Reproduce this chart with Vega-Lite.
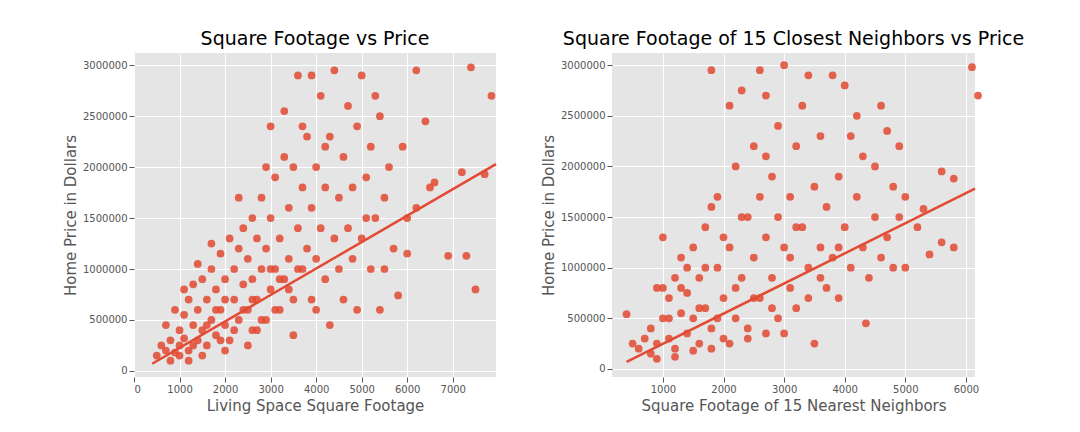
{
  "$schema": "https://vega.github.io/schema/vega-lite/v6.json",
  "padding": {"left": 63, "top": 30, "right": 10, "bottom": 5},
  "background": "white",
  "spacing": 40,
  "config": {
    "font": "DejaVu Sans",
    "view": {"fill": "#E5E5E5", "stroke": null},
    "axis": {"domain": false, "grid": true, "gridColor": "white", "gridWidth": 1, "tickColor": "#555555", "labelColor": "#555555", "labelFontSize": 10, "titleColor": "#555555", "titleFontSize": 15, "titleFontWeight": "normal"},
    "title": {"fontSize": 19, "fontWeight": "normal", "color": "black"}
  },
  "datasets": {
    "living": [
      {"x":500,"y":150000},{"x":600,"y":250000},{"x":700,"y":200000},{"x":800,"y":300000},{"x":900,"y":180000},{"x":1000,"y":400000},{"x":1000,"y":250000},{"x":1100,"y":550000},{"x":1100,"y":320000},{"x":1200,"y":700000},{"x":1200,"y":200000},{"x":1300,"y":450000},{"x":1300,"y":850000},{"x":1400,"y":300000},{"x":1400,"y":600000},{"x":1500,"y":900000},{"x":1500,"y":400000},{"x":1600,"y":250000},{"x":1600,"y":700000},{"x":1700,"y":1000000},{"x":1700,"y":500000},{"x":1800,"y":350000},{"x":1800,"y":800000},{"x":1900,"y":1150000},{"x":1900,"y":600000},{"x":2000,"y":450000},{"x":2000,"y":900000},{"x":2100,"y":300000},{"x":2100,"y":1300000},{"x":2200,"y":700000},{"x":2200,"y":1000000},{"x":2300,"y":500000},{"x":2300,"y":1200000},{"x":2400,"y":850000},{"x":2400,"y":1400000},{"x":2500,"y":600000},{"x":2500,"y":1100000},{"x":2600,"y":400000},{"x":2600,"y":900000},{"x":2700,"y":1300000},{"x":2700,"y":700000},{"x":2800,"y":1700000},{"x":2800,"y":1000000},{"x":2900,"y":500000},{"x":2900,"y":1200000},{"x":3000,"y":800000},{"x":3000,"y":1500000},{"x":3000,"y":2400000},{"x":3100,"y":1900000},{"x":3100,"y":1000000},{"x":3200,"y":600000},{"x":3200,"y":1300000},{"x":3300,"y":2100000},{"x":3300,"y":900000},{"x":3400,"y":1600000},{"x":3400,"y":1100000},{"x":3500,"y":2000000},{"x":3500,"y":700000},{"x":3600,"y":1400000},{"x":3600,"y":2900000},{"x":3700,"y":1000000},{"x":3700,"y":1800000},{"x":3800,"y":2300000},{"x":3800,"y":1200000},{"x":3900,"y":1600000},{"x":3900,"y":700000},{"x":4000,"y":2000000},{"x":4000,"y":1100000},{"x":4100,"y":2700000},{"x":4100,"y":1400000},{"x":4200,"y":900000},{"x":4200,"y":1800000},{"x":4300,"y":2300000},{"x":4300,"y":450000},{"x":4400,"y":1300000},{"x":4400,"y":2950000},{"x":4500,"y":1700000},{"x":4500,"y":1000000},{"x":4600,"y":2100000},{"x":4700,"y":1400000},{"x":4700,"y":2600000},{"x":4800,"y":1800000},{"x":4800,"y":1100000},{"x":4900,"y":2400000},{"x":5000,"y":1300000},{"x":5000,"y":2900000},{"x":5100,"y":1900000},{"x":5200,"y":1000000},{"x":5200,"y":2200000},{"x":5300,"y":1500000},{"x":5400,"y":600000},{"x":5400,"y":2500000},{"x":5500,"y":1700000},{"x":5600,"y":2000000},{"x":5700,"y":1200000},{"x":5800,"y":740000},{"x":5900,"y":2200000},{"x":6000,"y":1500000},{"x":6000,"y":1150000},{"x":6200,"y":2950000},{"x":6200,"y":1600000},{"x":6400,"y":2450000},{"x":6500,"y":1800000},{"x":6600,"y":1850000},{"x":6900,"y":1130000},{"x":7200,"y":1950000},{"x":7300,"y":1130000},{"x":7400,"y":2980000},{"x":7500,"y":800000},{"x":7700,"y":1930000},{"x":7850,"y":2700000},
      {"x":1500,"y":150000},{"x":2500,"y":250000},{"x":3500,"y":350000},{"x":800,"y":100000},{"x":1200,"y":100000},{"x":2000,"y":200000},{"x":900,"y":600000},{"x":1100,"y":800000},{"x":1300,"y":250000},{"x":1600,"y":450000},{"x":1800,"y":600000},{"x":2000,"y":700000},{"x":2200,"y":400000},{"x":2400,"y":600000},{"x":2600,"y":700000},{"x":2800,"y":500000},{"x":3000,"y":1000000},{"x":3200,"y":900000},{"x":3400,"y":800000},{"x":3600,"y":1000000},{"x":1400,"y":1050000},{"x":1700,"y":1250000},{"x":2300,"y":1700000},{"x":2600,"y":1500000},{"x":2900,"y":2000000},{"x":3300,"y":2550000},{"x":3900,"y":2900000},{"x":3700,"y":2400000},{"x":4200,"y":2200000},{"x":700,"y":450000},{"x":1000,"y":150000},{"x":1900,"y":300000},{"x":2700,"y":400000},{"x":3100,"y":600000},{"x":4000,"y":600000},{"x":4600,"y":700000},{"x":4900,"y":600000},{"x":5500,"y":1000000},{"x":5100,"y":1500000},{"x":5300,"y":2700000}
    ],
    "livingLine": [{"x":400,"y":70000},{"x":7950,"y":2030000}],
    "neigh": [
      {"x":400,"y":540000},{"x":500,"y":250000},{"x":600,"y":200000},{"x":800,"y":150000},{"x":800,"y":400000},{"x":900,"y":800000},{"x":900,"y":250000},{"x":1000,"y":500000},{"x":1000,"y":1300000},{"x":1100,"y":300000},{"x":1100,"y":700000},{"x":1200,"y":900000},{"x":1200,"y":200000},{"x":1300,"y":550000},{"x":1300,"y":1100000},{"x":1400,"y":350000},{"x":1400,"y":750000},{"x":1500,"y":1200000},{"x":1500,"y":500000},{"x":1600,"y":250000},{"x":1600,"y":900000},{"x":1700,"y":1400000},{"x":1700,"y":600000},{"x":1800,"y":2950000},{"x":1800,"y":400000},{"x":1900,"y":1000000},{"x":1900,"y":1700000},{"x":2000,"y":700000},{"x":2000,"y":300000},{"x":2100,"y":2600000},{"x":2100,"y":1200000},{"x":2200,"y":500000},{"x":2200,"y":2000000},{"x":2300,"y":900000},{"x":2300,"y":2750000},{"x":2400,"y":1500000},{"x":2400,"y":400000},{"x":2500,"y":1100000},{"x":2500,"y":2200000},{"x":2600,"y":700000},{"x":2600,"y":2950000},{"x":2700,"y":1300000},{"x":2700,"y":2700000},{"x":2800,"y":900000},{"x":2800,"y":1900000},{"x":2900,"y":500000},{"x":2900,"y":2400000},{"x":3000,"y":1200000},{"x":3000,"y":3000000},{"x":3100,"y":800000},{"x":3100,"y":1700000},{"x":3200,"y":2200000},{"x":3200,"y":600000},{"x":3300,"y":1400000},{"x":3300,"y":2600000},{"x":3400,"y":1000000},{"x":3400,"y":2900000},{"x":3500,"y":1800000},{"x":3500,"y":250000},{"x":3600,"y":1200000},{"x":3600,"y":2300000},{"x":3700,"y":800000},{"x":3700,"y":1600000},{"x":3800,"y":2900000},{"x":3800,"y":1100000},{"x":3900,"y":1900000},{"x":3900,"y":700000},{"x":4000,"y":1400000},{"x":4000,"y":2800000},{"x":4100,"y":2300000},{"x":4100,"y":1000000},{"x":4200,"y":1700000},{"x":4200,"y":2500000},{"x":4300,"y":1200000},{"x":4300,"y":2100000},{"x":4350,"y":450000},{"x":4400,"y":900000},{"x":4500,"y":1500000},{"x":4500,"y":2000000},{"x":4600,"y":2600000},{"x":4600,"y":1100000},{"x":4700,"y":2350000},{"x":4700,"y":1300000},{"x":4800,"y":1800000},{"x":4800,"y":1000000},{"x":4900,"y":1500000},{"x":4900,"y":2200000},{"x":5000,"y":1700000},{"x":5000,"y":1000000},{"x":5200,"y":1400000},{"x":5300,"y":1580000},{"x":5400,"y":1130000},{"x":5600,"y":1250000},{"x":5600,"y":1950000},{"x":5800,"y":1880000},{"x":5800,"y":1200000},{"x":6100,"y":2980000},{"x":6200,"y":2700000},
      {"x":900,"y":100000},{"x":1200,"y":120000},{"x":1500,"y":180000},{"x":1800,"y":200000},{"x":2100,"y":250000},{"x":2400,"y":300000},{"x":2700,"y":350000},{"x":3000,"y":350000},{"x":1000,"y":800000},{"x":1300,"y":800000},{"x":1600,"y":600000},{"x":1900,"y":500000},{"x":2200,"y":800000},{"x":2500,"y":700000},{"x":2800,"y":600000},{"x":3100,"y":1100000},{"x":3400,"y":700000},{"x":2000,"y":1300000},{"x":2300,"y":1500000},{"x":2600,"y":1700000},{"x":1700,"y":1000000},{"x":1400,"y":1000000},{"x":2900,"y":1500000},{"x":3200,"y":1400000},{"x":3600,"y":900000},{"x":3900,"y":1200000},{"x":1100,"y":500000},{"x":700,"y":300000},{"x":1800,"y":1600000},{"x":2700,"y":2100000}
    ],
    "neighLine": [{"x":400,"y":70000},{"x":6150,"y":1780000}]
  },
  "hconcat": [
    {
      "title": "Square Footage vs Price",
      "width": 362, "height": 324,
      "layer": [
        {
          "data": {"name": "living"},
          "mark": {"type": "circle", "size": 60, "color": "#E24A33", "opacity": 0.85},
          "encoding": {
            "x": {"field": "x", "type": "quantitative", "title": "Living Space Square Footage", "scale": {"domain": [0, 7950], "nice": false, "zero": false}, "axis": {"values": [0,1000,2000,3000,4000,5000,6000,7000], "format": "d"}},
            "y": {"field": "y", "type": "quantitative", "title": "Home Price in Dollars", "scale": {"domain": [-60000, 3120000], "nice": false, "zero": false}, "axis": {"values": [0,500000,1000000,1500000,2000000,2500000,3000000], "format": "d"}}
          }
        },
        {
          "data": {"name": "livingLine"},
          "mark": {"type": "line", "color": "#E24A33", "strokeWidth": 2.5},
          "encoding": {"x": {"field": "x", "type": "quantitative"}, "y": {"field": "y", "type": "quantitative"}}
        }
      ]
    },
    {
      "title": "Square Footage of 15 Closest Neighbors vs Price",
      "width": 363, "height": 324,
      "layer": [
        {
          "data": {"name": "neigh"},
          "mark": {"type": "circle", "size": 60, "color": "#E24A33", "opacity": 0.85},
          "encoding": {
            "x": {"field": "x", "type": "quantitative", "title": "Square Footage of 15 Nearest Neighbors", "scale": {"domain": [160, 6150], "nice": false, "zero": false}, "axis": {"values": [1000,2000,3000,4000,5000,6000], "format": "d"}},
            "y": {"field": "y", "type": "quantitative", "title": "Home Price in Dollars", "scale": {"domain": [-80000, 3120000], "nice": false, "zero": false}, "axis": {"values": [0,500000,1000000,1500000,2000000,2500000,3000000], "format": "d"}}
          }
        },
        {
          "data": {"name": "neighLine"},
          "mark": {"type": "line", "color": "#E24A33", "strokeWidth": 2.5},
          "encoding": {"x": {"field": "x", "type": "quantitative"}, "y": {"field": "y", "type": "quantitative"}}
        }
      ]
    }
  ]
}
